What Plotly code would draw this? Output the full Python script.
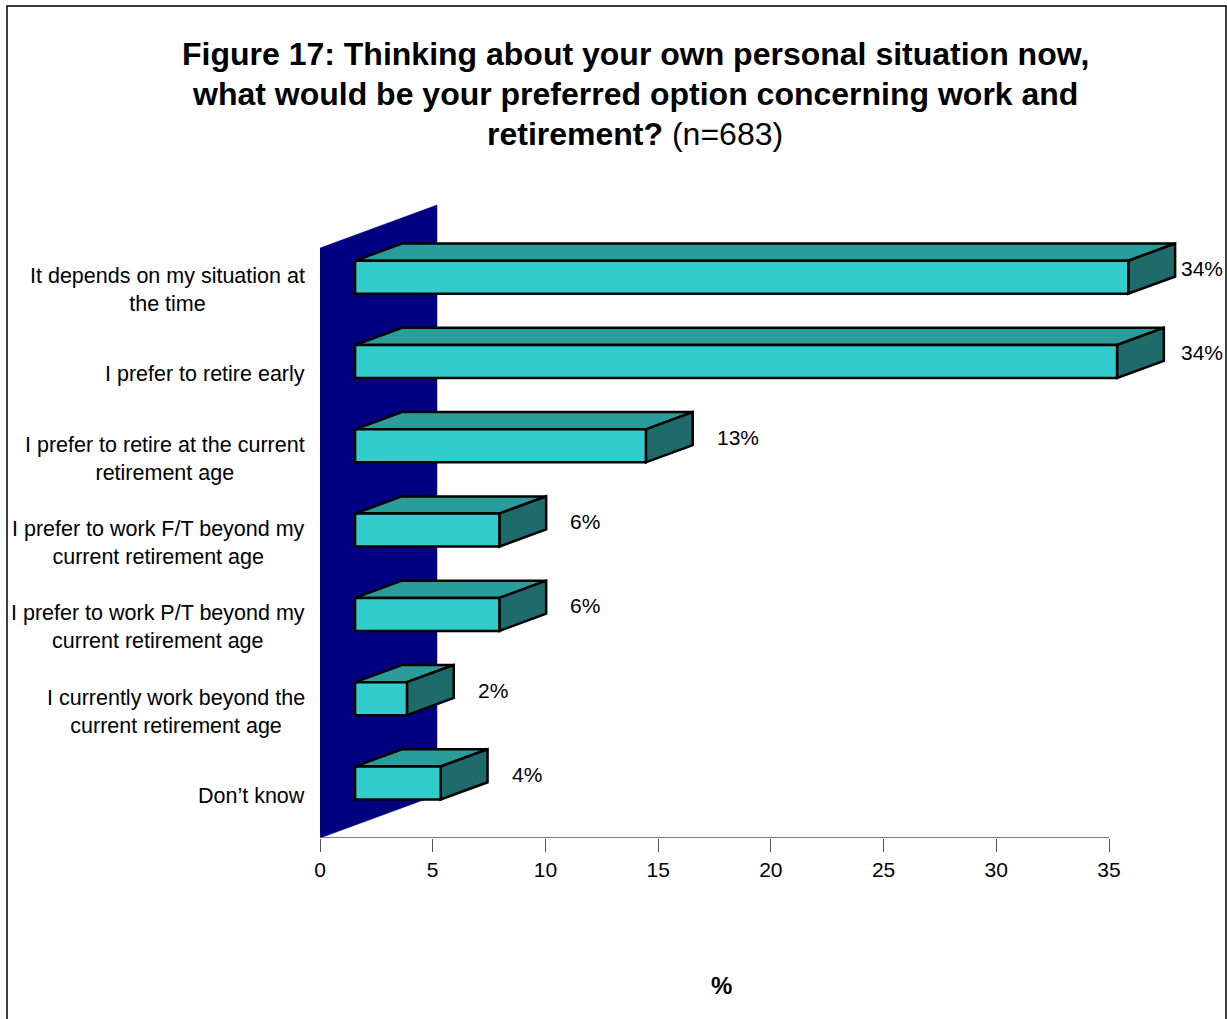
import plotly.graph_objects as go

# Survey responses (top to bottom as listed)
categories = [
    "It depends on my situation at<br>the time",
    "I prefer to retire early",
    "I prefer to retire at the current<br>retirement age",
    "I prefer to work F/T beyond my<br>current retirement age",
    "I prefer to work P/T beyond my<br>current retirement age",
    "I currently work beyond the<br>current retirement age",
    "Don\u2019t know",
]
percent = [34.3, 33.8, 12.9, 6.4, 6.4, 2.3, 3.8]
x_ticks = [0, 5, 10, 15, 20, 25, 30, 35]

FONT = "Liberation Sans, Arial, sans-serif"
FRONT = "#33CCCC"
TOP = "#2A9C9C"
SIDE = "#1E6B6B"
WALL = "#000080"

# pseudo-3D geometry in axis units
PX_X = 789 / 35.0          # pixels per x unit
PX_Y = 590 / 7.0           # pixels per category slot
WALL_DX, WALL_DY = 117 / PX_X, 43 / PX_Y
BAR_DEPTH0, BAR_DEPTH1 = 0.30, 0.70
HALF_H = 16.5 / PX_Y

n = len(categories)
fig = go.Figure()

# back wall of the 3-D frame
fig.add_trace(go.Scatter(
    x=[0, 0, WALL_DX, WALL_DX, 0],
    y=[0, n, n + WALL_DY, WALL_DY, 0],
    fill="toself", fillcolor=WALL, mode="lines",
    line=dict(color=WALL, width=0.5), hoverinfo="skip", showlegend=False))

annotations = []
for i, (cat, v) in enumerate(zip(categories, percent)):
    slot = n - i - 0.5
    fx0 = BAR_DEPTH0 * WALL_DX
    fy = slot + BAR_DEPTH0 * WALL_DY
    bx0 = BAR_DEPTH1 * WALL_DX
    by = slot + BAR_DEPTH1 * WALL_DY
    fx1, bx1 = fx0 + v, bx0 + v
    yt_f, yb_f = fy + HALF_H, fy - HALF_H
    yt_b, yb_b = by + HALF_H, by - HALF_H
    edge = dict(color="black", width=2.5)
    # top face
    fig.add_trace(go.Scatter(
        x=[fx0, bx0, bx1, fx1, fx0], y=[yt_f, yt_b, yt_b, yt_f, yt_f],
        fill="toself", fillcolor=TOP, mode="lines", line=edge,
        hoverinfo="skip", showlegend=False))
    # right side face
    fig.add_trace(go.Scatter(
        x=[fx1, bx1, bx1, fx1, fx1], y=[yt_f, yt_b, yb_b, yb_f, yt_f],
        fill="toself", fillcolor=SIDE, mode="lines", line=edge,
        hoverinfo="skip", showlegend=False))
    # front face
    fig.add_trace(go.Scatter(
        x=[fx0, fx1, fx1, fx0, fx0], y=[yt_f, yt_f, yb_f, yb_f, yt_f],
        fill="toself", fillcolor=FRONT, mode="lines", line=edge,
        hoverinfo="skip", showlegend=False))

    # value label to the right of the bar
    lx = min(bx1 + 22 / PX_X, 859 / PX_X)
    annotations.append(dict(
        x=lx, y=(fy + by) / 2, xref="x", yref="y", text=f"{round(v)}%",
        showarrow=False, xanchor="left", yanchor="middle",
        font=dict(family=FONT, size=21, color="black")))

    # category label
    annotations.append(dict(
        x=0, y=slot, xref="x", yref="y", xshift=-13, text=cat,
        showarrow=False, xanchor="right", yanchor="middle", align="center",
        font=dict(family=FONT, size=21.5, color="black")))

# title lines
title_lines = [
    ("<b>Figure 17: Thinking about your own personal situation now,</b>", 54),
    ("<b>what would be your preferred option concerning work and</b>", 94),
    ("<b>retirement?</b> (n=683)", 134),
]
W, H = 1227, 1019
L, R, T, B = 320, 0, 198, 181
pw, ph = W - L - R, H - T - B
for txt, ypix in title_lines:
    annotations.append(dict(
        x=(635 - L) / pw, y=(H - B - ypix) / ph, xref="paper", yref="paper",
        text=txt, showarrow=False, xanchor="center", yanchor="middle",
        font=dict(family=FONT, size=32, color="black")))

# axis title
annotations.append(dict(
    x=(721 - L) / pw, y=(H - B - 985) / ph, xref="paper", yref="paper",
    text="<b>%</b>", showarrow=False, xanchor="center", yanchor="middle",
    font=dict(family=FONT, size=24, color="black")))

shapes = [
    # category axis baseline
    dict(type="line", xref="x", yref="y", x0=0, x1=x_ticks[-1], y0=0, y1=0,
         line=dict(color="#555555", width=1.3)),
    # outer frame
    dict(type="rect", xref="paper", yref="paper",
         x0=(7 - L) / pw, x1=(1226 - L) / pw,
         y0=(H - B - 1030) / ph, y1=(H - B - 6) / ph,
         line=dict(color="black", width=1.5)),
]

fig.update_layout(
    width=W, height=H,
    margin=dict(l=L, r=R, t=T, b=B),
    paper_bgcolor="white", plot_bgcolor="white",
    xaxis=dict(range=[0, pw / PX_X], tickvals=x_ticks, ticks="outside",
               ticklen=13, tickcolor="#555555", tickwidth=1.3,
               tickfont=dict(family=FONT, size=21, color="black"),
               showgrid=False, zeroline=False, showline=False, fixedrange=True),
    yaxis=dict(range=[0, ph / PX_Y], visible=False, fixedrange=True),
    annotations=annotations, shapes=shapes,
    showlegend=False,
)

fig.write_html("out.html")
